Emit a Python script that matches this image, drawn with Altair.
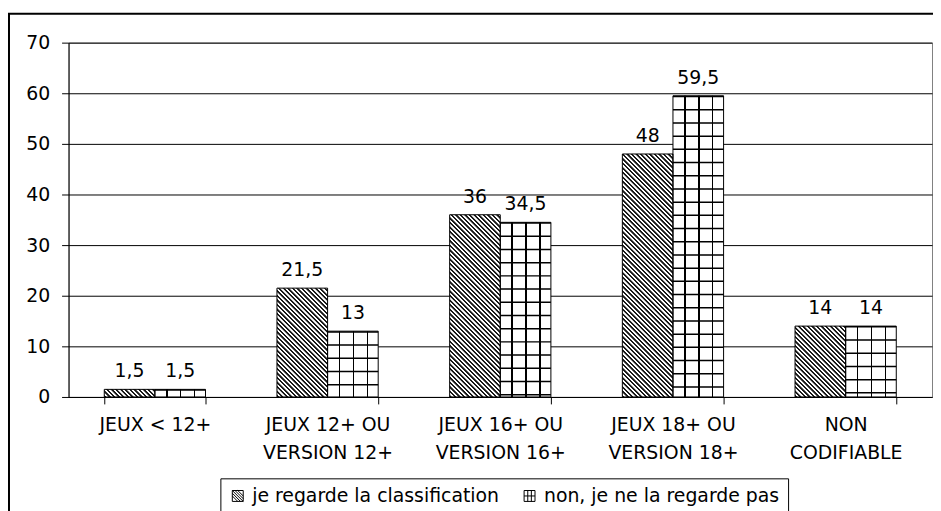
import math
import altair as alt
import pandas as pd

# ---------------- data ----------------
categories = [
    "JEUX < 12+",
    "JEUX 12+ OU|VERSION 12+",
    "JEUX 16+ OU|VERSION 16+",
    "JEUX 18+ OU|VERSION 18+",
    "NON|CODIFIABLE",
]
series_names = ["je regarde la classification", "non, je ne la regarde pas"]
regarde = [1.5, 21.5, 36, 48, 14]
non_regarde = [1.5, 13, 34.5, 59.5, 14]
y_ticks = [0, 10, 20, 30, 40, 50, 60, 70]

rows = []
for c, a, b in zip(categories, regarde, non_regarde):
    rows.append({"cat": c, "series": series_names[0], "value": a})
    rows.append({"cat": c, "series": series_names[1], "value": b})
df = pd.DataFrame(rows)

# ---------------- layout ----------------
W, H = 870, 357
YMAX = 70
FONT = "DejaVu Sans"
STEP = W / len(categories)
BAR_W = 51
pad_inner = (STEP - 2 * BAR_W) / STEP
pad_outer = pad_inner / 2


def diag_gradient(h, w=BAR_W, period=4.6):
    """Diagonal '\\' stripes with a constant pixel period for a bar of w x h px."""
    L = w + h
    m = L / (w * w + h * h)
    stops = []
    n = int(math.ceil(L / period))
    for k in range(n):
        base = k * period
        for frac, col in [(0.05, "#1a1a1a"), (0.45, "#1a1a1a"), (0.55, "#ffffff"), (0.95, "#ffffff")]:
            t = (base + frac * period) / L
            if t <= 1:
                stops.append({"offset": round(t, 5), "color": col})
    return {"gradient": "linear", "x1": 0, "y1": 1,
            "x2": round(m * w, 6), "y2": round(1 - m * h, 6), "stops": stops}


def grid_gradient(lines=(12, 26, 40), lw=1.5, w=BAR_W):
    stops = [{"offset": 0, "color": "#ffffff"}]
    for p in lines:
        a = round((p - lw / 2) / w, 5)
        b = round((p + lw / 2) / w, 5)
        stops += [{"offset": a, "color": "#ffffff"}, {"offset": a, "color": "#000000"},
                  {"offset": b, "color": "#000000"}, {"offset": b, "color": "#ffffff"}]
    stops.append({"offset": 1, "color": "#ffffff"})
    return {"gradient": "linear", "x1": 0, "y1": 0, "x2": 1, "y2": 0, "stops": stops}


path_hatch = ("M-1,-1H1V1H-1Z M-1,0L0,1 M-1,-0.5L0.5,1 M-1,-1L1,1 "
              "M-0.5,-1L1,0.5 M0,-1L1,0")
path_grid = "M-1,-1H1V1H-1Z M-0.33,-1V1 M0.33,-1V1 M-1,0H1"

x_enc = alt.X("cat:N", sort=categories, title=None,
              scale=alt.Scale(paddingInner=pad_inner, paddingOuter=pad_outer),
              axis=alt.Axis(labelExpr="split(datum.label, '|')", labelAngle=0))
xo_enc = alt.XOffset("series:N", sort=series_names,
                     scale=alt.Scale(paddingInner=0, paddingOuter=0))
y_enc = alt.Y("value:Q", title=None,
              scale=alt.Scale(domain=[0, YMAX], nice=False),
              axis=alt.Axis(values=y_ticks))

base = alt.Chart(df).encode(x=x_enc, xOffset=xo_enc, y=y_enc)

frame = alt.Chart(alt.Data(values=[{"a": 1}])).mark_rect(
    fill="white", fillOpacity=0, stroke="black", strokeWidth=2
).encode(x=alt.value(-60), x2=alt.value(1000), y=alt.value(-29), y2=alt.value(700))

grid_bars = base.transform_filter(alt.datum.series == series_names[1]).mark_bar(
    fill=grid_gradient()
)

hatch_layers = []
for c, v in zip(categories, regarde):
    hatch_layers.append(
        base.transform_filter((alt.datum.series == series_names[0]) & (alt.datum.cat == c))
        .mark_bar(fill=diag_gradient(v * H / YMAX))
    )

hlines = base.transform_filter(alt.datum.series == series_names[1]).mark_rule(
    strokeWidth=BAR_W, strokeDash=[1.5, 11.8], color="black", strokeCap="butt"
).encode(y2=alt.datum(0))

outline = base.mark_bar(fill="white", fillOpacity=0, stroke="black", strokeWidth=1)

legend_pts = base.mark_point(opacity=0, filled=False, color="black").encode(
    shape=alt.Shape("series:N", sort=series_names,
                    scale=alt.Scale(domain=series_names, range=[path_hatch, path_grid]),
                    legend=alt.Legend(title=None, orient="none", legendX=153, legendY=439,
                                      direction="horizontal"))
)

labels = base.transform_calculate(
    label="replace(toString(datum.value), '.', ',')"
).mark_text(dy=-12, baseline="alphabetic", font=FONT, fontSize=19, color="black").encode(
    text="label:N"
)

chart = alt.layer(frame, grid_bars, *hatch_layers, hlines, outline, legend_pts, labels).properties(
    width=W, height=H,
    padding={"left": 61, "top": 33, "right": 1, "bottom": 113},
    autosize=alt.AutoSizeParams(type="none"),
).configure_view(
    stroke="#808080", strokeWidth=1
).configure_axis(
    domainColor="black", tickColor="black", labelColor="black",
    labelFont=FONT, labelFontSize=19, tickSize=7, domainWidth=1, tickWidth=1,
).configure_axisY(
    grid=True, gridColor="black", gridWidth=1, labelPadding=12,
).configure_axisX(
    grid=False, labelPadding=12, labelLineHeight=28, tickBand="extent", labelLimit=300,
).configure_legend(
    strokeColor="black", padding=8, labelFont=FONT, labelFontSize=19, labelColor="black",
    symbolSize=121, symbolStrokeColor="black", symbolStrokeWidth=1, symbolFillColor="white",
    columnPadding=21, labelOffset=5, labelLimit=400, symbolOpacity=1,
)

chart.save("out.html", embed_options={"renderer": "svg", "actions": False})
